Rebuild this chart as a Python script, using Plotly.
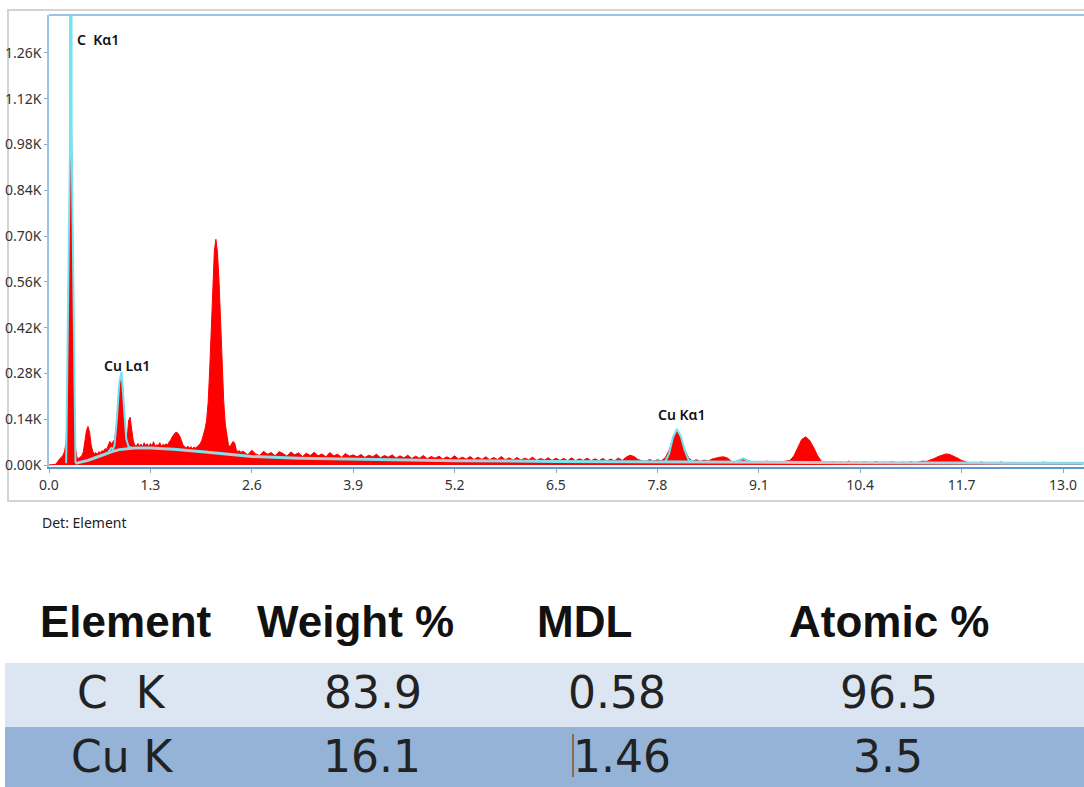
import plotly.graph_objects as go

W, H = 1084, 787

# ---------------- data ----------------
# spectrum, 0.00-2.48 keV, 0.02 keV channels
step_low = 0.02
counts_low = [
    0, 0, 0, 0, 2, 6, 14, 20, 24, 30,            # 0.00-0.18
    42, 70, 220, 820, 1245, 760, 210, 50, 22, 20,  # 0.20-0.38
    24, 28, 40, 70, 105, 118, 100, 62, 42, 34,     # 0.40-0.58
    38, 33, 41, 37, 44, 42, 50, 48, 60, 72,        # 0.60-0.78
    64, 70, 78, 110, 175, 240, 272, 265, 170, 85,  # 0.80-0.98
    72, 135, 146, 110, 74, 60, 58, 66, 57, 64,     # 1.00-1.18
    56, 68, 59, 65, 55, 66, 58, 71, 57, 62,        # 1.20-1.38
    59, 68, 57, 63, 60, 65, 61, 70, 76, 86,        # 1.40-1.58
    94, 99, 100, 95, 86, 72, 60, 56, 52, 58,       # 1.60-1.78
    51, 56, 50, 55, 52, 56, 60, 66, 76, 92,        # 1.80-1.98
    110, 135, 190, 290, 430, 560, 655, 690, 650, 560,  # 2.00-2.18
    430, 300, 195, 125, 85, 62, 56, 64, 72, 67,    # 2.20-2.38
    48, 40, 44, 38, 42,                            # 2.40-2.48
]
# spectrum, 2.50-13.25 keV, 0.05 keV channels
start_high = 2.50
step_high = 0.05
counts_high = [
    40, 31, 45, 34, 29, 42, 33, 38, 28, 41,   # 2.50
    35, 27, 40, 31, 37, 26, 36, 29, 39, 28,   # 3.00
    34, 25, 38, 28, 33, 24, 35, 27, 31, 25,   # 3.50
    32, 23, 30, 25, 33, 22, 29, 24, 31, 21,   # 4.00
    28, 22, 30, 20, 27, 21, 29, 19, 26, 21,   # 4.50
    27, 18, 25, 19, 28, 18, 24, 18, 26, 17,   # 5.00
    24, 17, 25, 16, 23, 17, 26, 16, 22, 15,   # 5.50
    23, 15, 21, 16, 24, 14, 20, 15, 22, 14,   # 6.00
    21, 14, 20, 13, 22, 13, 19, 14, 21, 13,   # 6.50
    19, 13, 20, 12, 18, 13, 21, 14, 24, 30,   # 7.00
    26, 17, 13, 11, 17, 12, 16, 13, 22, 45,   # 7.50
    80, 102, 85, 48, 22, 12, 16, 11, 15, 12,  # 8.00
    18, 22, 24, 25, 21, 11, 10, 16, 19, 16,   # 8.50
    10, 8, 10, 8, 12, 8, 11, 8, 10, 14,       # 9.00
    14, 28, 55, 78, 86, 76, 55, 30, 12, 8,    # 9.50
    7, 11, 7, 9, 6, 12, 7, 9, 6, 10,          # 10.00
    7, 6, 11, 7, 9, 6, 10, 7, 6, 9,           # 10.50
    7, 10, 7, 9, 12, 11, 15, 20, 26, 31,      # 11.00
    34, 32, 27, 21, 14, 9, 6, 8, 6, 9,        # 11.50
    6, 5, 8, 5, 9, 6, 5, 8, 5, 7,             # 12.00
    5, 8, 5, 7, 5, 9, 5, 7, 5, 8,             # 12.50
    5, 5, 7, 5, 5, 6,                         # 13.00
]

# continuum (background) line
bg_energy = [0.34, 0.40, 0.50, 0.60, 0.70, 0.80, 0.90, 1.00, 1.10, 1.30, 1.60, 2.00, 2.30,
             2.60, 3.20, 3.90, 4.50, 5.20, 6.50, 7.80, 9.10, 10.40, 11.70, 13.27]
bg_counts = [5, 8, 14, 23, 32, 40, 47, 50, 52, 52, 48, 40, 32,
             26, 21, 18, 15, 13, 11, 9, 8, 7, 6, 5]

# fitted element lines (C, Cu)
fit_energy = [0.22, 0.27, 0.28, 0.29, 0.34,
              0.76, 0.80, 0.82, 0.84, 0.87, 0.90, 0.93, 0.96, 0.99, 1.02, 1.06,
              7.90, 7.95, 8.00, 8.05, 8.10, 8.15, 8.20, 8.25,
              8.80, 8.90, 9.00]
fit_counts = [5, 1000, 4000, 1000, 6,
              40, 52, 48, 60, 140, 250, 285, 190, 80, 56, 53,
              10, 35, 85, 110, 88, 45, 15, 10,
              9, 20, 9]

peak_labels = ["C  K\u03b11", "Cu L\u03b11", "Cu K\u03b11"]
peak_label_x = [0.333, 0.68, 7.78]
peak_label_y = [1300, 303, 153]

x_ticks = [0.0, 1.3, 2.6, 3.9, 5.2, 6.5, 7.8, 9.1, 10.4, 11.7, 13.0]
y_ticks = [0, 140, 280, 420, 560, 700, 840, 980, 1120, 1260]
y_ticktext = ["0.00K", "0.14K", "0.28K", "0.42K", "0.56K", "0.70K",
              "0.84K", "0.98K", "1.12K", "1.26K"]

table_header = ["Element", "Weight %", "MDL", "Atomic %"]
table_rows = [["C\u00a0 K", "83.9", "0.58", "96.5"],
              ["Cu K", "16.1", "1.46", "3.5"]]

# ---------------- build ----------------
energy_low = [round(i * step_low, 2) for i in range(len(counts_low))]
energy_high = [round(start_high + i * step_high, 2) for i in range(len(counts_high))]
energy = energy_low + energy_high
counts = counts_low + counts_high

RED = "#ff0000"
CYAN = "#6fe4f2"

fig = go.Figure()
fig.add_trace(go.Scatter(x=energy, y=counts, mode="lines", fill="tozeroy",
                         fillcolor=RED, line=dict(color=RED, width=1),
                         hoverinfo="skip", showlegend=False))
segs = [(0, 5), (5, 16), (16, 24), (24, 27)]
for a, b in segs:
    fig.add_trace(go.Scatter(x=fit_energy[a:b], y=fit_counts[a:b], mode="lines",
                             line=dict(color=CYAN, width=2), showlegend=False,
                             hoverinfo="skip"))
fig.add_trace(go.Scatter(x=bg_energy, y=bg_counts, mode="lines",
                         line=dict(color=CYAN, width=3), showlegend=False, hoverinfo="skip"))
fig.add_trace(go.Scatter(x=bg_energy, y=bg_counts, mode="lines",
                         line=dict(color="#c2c9cf", width=1.3), showlegend=False, hoverinfo="skip"))

px = lambda v: v / W
py = lambda v: 1 - v / H

plot_top, plot_bottom, plot_left = 15, 467, 49
y_per_px = 0.3271  # px per count
y_min = -(plot_bottom - 465) / y_per_px
y_max = (465 - plot_top) / y_per_px

tickfont = dict(family="Noto Sans, Open Sans, sans-serif", size=14, color="#333333")

fig.update_layout(
    width=W, height=H,
    margin=dict(l=0, r=0, t=0, b=0),
    paper_bgcolor="white", plot_bgcolor="white",
    showlegend=False,
    xaxis=dict(domain=[px(plot_left), 1], range=[0, (W - plot_left) / 78.0],
               tickvals=x_ticks, ticktext=[f"{v:.1f}" for v in x_ticks],
               ticks="outside", ticklen=4, tickcolor="#8aa6c4",
               showline=True, linecolor="#5f97d0", linewidth=2,
               showgrid=False, zeroline=False, tickfont=tickfont, automargin=False),
    yaxis=dict(domain=[py(plot_bottom), py(plot_top)], range=[y_min, y_max],
               tickvals=y_ticks, ticktext=y_ticktext,
               ticks="outside", ticklen=3, tickcolor="#8aa6c4",
               showline=True, linecolor="#9cc2e5", linewidth=1.5,
               showgrid=False, zeroline=False, tickfont=tickfont, automargin=False),
)

shapes = []
shapes.append(dict(type="rect", xref="paper", yref="paper",
                   x0=px(8), x1=px(1095), y0=py(501), y1=py(10),
                   line=dict(color="#d3d3d3", width=2), fillcolor="rgba(0,0,0,0)", layer="below"))
shapes.append(dict(type="line", xref="paper", yref="paper",
                   x0=px(plot_left), x1=1, y0=py(plot_top), y1=py(plot_top),
                   line=dict(color="#9cc2e5", width=2)))
shapes.append(dict(type="rect", xref="paper", yref="paper",
                   x0=px(5), x1=1, y0=py(727), y1=py(663),
                   line=dict(width=0), fillcolor="#dce6f2", layer="below"))
shapes.append(dict(type="rect", xref="paper", yref="paper",
                   x0=px(5), x1=1, y0=py(H), y1=py(727),
                   line=dict(width=0), fillcolor="#95b3d7", layer="below"))
shapes.append(dict(type="line", xref="paper", yref="paper",
                   x0=px(573), x1=px(573), y0=py(777), y1=py(734),
                   line=dict(color="#8a6a48", width=2)))
fig.update_layout(shapes=shapes)

annotations = []
for t, xv, yv in zip(peak_labels, peak_label_x, peak_label_y):
    annotations.append(dict(text=t, x=xv, y=yv, xref="x", yref="y",
                            xanchor="left", yanchor="middle", showarrow=False,
                            font=dict(family="Noto Sans, sans-serif", size=14,
                                      color="#111111", weight=600)))
annotations.append(dict(text="Det: Element", x=px(40), y=py(522), xref="paper", yref="paper",
                        xanchor="left", yanchor="middle", showarrow=False,
                        font=dict(family="Noto Sans, sans-serif", size=14, color="#222222")))

col_x = [126, 355, 584, 889]
for t, cx in zip(table_header, col_x):
    annotations.append(dict(text=t, x=px(cx), y=py(621), xref="paper", yref="paper",
                            xanchor="center", yanchor="middle", showarrow=False,
                            font=dict(family="Liberation Sans, Arial, sans-serif", size=44,
                                      color="#111111", weight="bold")))
row_x = [[121, 373, 617, 889], [122, 372, 622, 888]]
row_y = [692, 756]
for r, row in enumerate(table_rows):
    for c, t in enumerate(row):
        annotations.append(dict(text=t, x=px(row_x[r][c]), y=py(row_y[r]),
                                xref="paper", yref="paper",
                                xanchor="center", yanchor="middle", showarrow=False,
                                font=dict(family="DejaVu Sans, sans-serif", size=44,
                                          color="#222222")))
fig.update_layout(annotations=annotations)

fig.write_html("out.html")
